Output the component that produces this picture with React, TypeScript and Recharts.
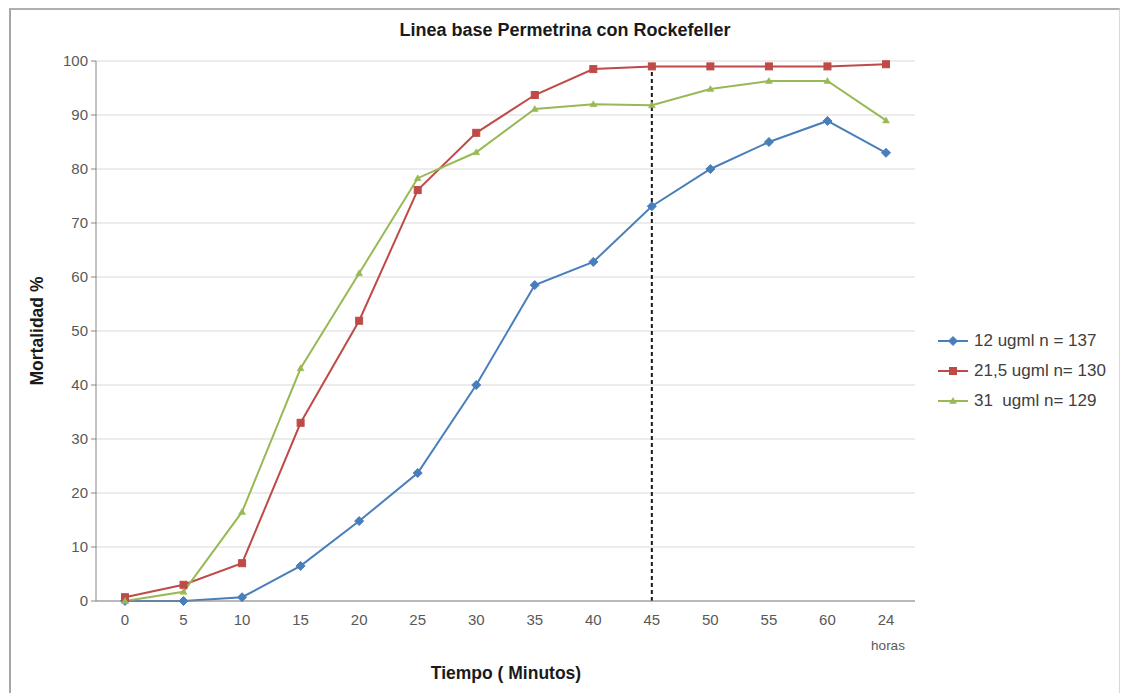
import React from "react";
import {
  LineChart,
  Line,
  XAxis,
  YAxis,
  CartesianGrid,
  Legend,
  ReferenceLine,
  Label,
} from "recharts";

// Exposure time (minutes; the last point is the 24 h reading)
const minutes = ["0", "5", "10", "15", "20", "25", "30", "35", "40", "45", "50", "55", "60", "24"];

// Mortality % per dose
const dose12 = [0, 0, 0.7, 6.5, 14.8, 23.7, 40, 58.5, 62.8, 73.1, 80, 85, 88.9, 83];
const dose215 = [0.7, 3, 7, 33, 51.9, 76.1, 86.7, 93.7, 98.5, 99, 99, 99, 99, 99.4];
const dose31 = [0, 1.7, 16.5, 43.1, 60.7, 78.3, 83.1, 91.1, 92, 91.8, 94.8, 96.3, 96.3, 89];

const yTicks = [0, 10, 20, 30, 40, 50, 60, 70, 80, 90, 100];
const cutoffMinute = "45";

const data = minutes.map((m, i) => ({
  minute: m,
  d12: dose12[i],
  d215: dose215[i],
  d31: dose31[i],
}));

const FONT = "'Liberation Sans', Arial, sans-serif";
const TICK_COLOR = "#595959";

type MarkerKind = "diamond" | "square" | "triangle";

const series: { key: string; name: string; color: string; marker: MarkerKind }[] = [
  { key: "d12", name: "12 ugml n = 137", color: "#4a7ebb", marker: "diamond" },
  { key: "d215", name: "21,5 ugml n= 130", color: "#be4b48", marker: "square" },
  { key: "d31", name: "31  ugml n= 129", color: "#98b954", marker: "triangle" },
];

const Marker = ({ cx, cy, kind, color }: { cx: number; cy: number; kind: MarkerKind; color: string }) => {
  if (cx == null || cy == null) return null;
  if (kind === "diamond") {
    return <path d={`M${cx},${cy - 4.5}L${cx + 4.5},${cy}L${cx},${cy + 4.5}L${cx - 4.5},${cy}Z`} fill={color} stroke={color} />;
  }
  if (kind === "square") {
    return <rect x={cx - 3.5} y={cy - 3.5} width={7} height={7} fill={color} stroke={color} />;
  }
  return <path d={`M${cx},${cy - 3.5}L${cx + 3.5},${cy + 2.5}L${cx - 3.5},${cy + 2.5}Z`} fill={color} stroke={color} strokeWidth={0.5} />;
};

const TimeTick = (props: any) => {
  const { x, y, payload } = props;
  return (
    <g>
      <text x={x} y={y} dy={16} textAnchor="middle" fill={TICK_COLOR} fontSize={15} fontFamily={FONT}>
        {payload.value}
      </text>
      {payload.value === "24" && (
        <text x={x + 2} y={y + 41} textAnchor="middle" fill={TICK_COLOR} fontSize={13.5} fontFamily={FONT}>
          horas
        </text>
      )}
    </g>
  );
};

const LegendBox = () => (
  <div style={{ fontFamily: FONT, fontSize: 17, color: "#404040" }}>
    {series.map((s) => (
      <div key={s.key} style={{ display: "flex", alignItems: "center", height: 30 }}>
        <svg width={38} height={14}>
          <line x1={2} y1={7} x2={32} y2={7} stroke={s.color} strokeWidth={2} />
          <Marker cx={17} cy={7} kind={s.marker} color={s.color} />
        </svg>
        <span style={{ whiteSpace: "pre" }}>{s.name}</span>
      </div>
    ))}
  </div>
);

export default function App() {
  return (
    <div style={{ position: "absolute", left: 0, top: 0, width: 1124, height: 693, background: "#fff", overflow: "hidden" }}>
      <div
        style={{
          position: "absolute",
          left: 9,
          top: 8,
          width: 1108,
          height: 700,
          borderLeft: "2px solid #a6a6a6",
          borderTop: "2px solid #b0b0b0",
          borderRight: "1px solid #d9d9d9",
        }}
      />
      <div
        style={{
          position: "absolute",
          left: 0,
          top: 19,
          width: 1130,
          textAlign: "center",
          fontFamily: FONT,
          fontWeight: "bold",
          fontSize: 18,
          lineHeight: "22px",
          color: "#1a1a1a",
        }}
      >
        Linea base Permetrina con Rockefeller
      </div>
      <div style={{ position: "absolute", left: 0, top: 0 }}>
        <LineChart width={1124} height={693} data={data} margin={{ top: 61, right: 209, bottom: 62, left: 36 }}>
          <CartesianGrid vertical={false} stroke="#d9d9d9" />
          <XAxis
            dataKey="minute"
            height={30}
            padding={{ left: 29, right: 29 }}
            axisLine={{ stroke: "#868686" }}
            tickLine={false}
            tick={<TimeTick />}
            interval={0}
          >
            <Label
              content={() => (
                <text x={506} y={679} textAnchor="middle" fontFamily={FONT} fontWeight="bold" fontSize={17.5} fill="#1a1a1a">
                  Tiempo ( Minutos)
                </text>
              )}
            />
          </XAxis>
          <YAxis
            width={60}
            domain={[0, 100]}
            ticks={yTicks}
            interval={0}
            axisLine={{ stroke: "#868686" }}
            tickLine={{ stroke: "#868686" }}
            tickSize={5}
            tickMargin={3}
            tick={{ fill: TICK_COLOR, fontSize: 15, fontFamily: FONT }}
          >
            <Label
              content={() => (
                <text
                  x={43}
                  y={331}
                  transform="rotate(-90 43 331)"
                  textAnchor="middle"
                  fontFamily={FONT}
                  fontWeight="bold"
                  fontSize={17.5}
                  fill="#1a1a1a"
                >
                  Mortalidad %
                </text>
              )}
            />
          </YAxis>
          <ReferenceLine
            segment={[
              { x: cutoffMinute, y: 0 },
              { x: cutoffMinute, y: dose215[minutes.indexOf(cutoffMinute)] },
            ]}
            stroke="#1a1a1a"
            strokeWidth={2}
            strokeDasharray="4 3"
          />
          {series.map((s) => (
            <Line
              key={s.key}
              dataKey={s.key}
              name={s.name}
              type="linear"
              stroke={s.color}
              strokeWidth={2}
              dot={(p: any) => <Marker key={`${s.key}-${p.index}`} cx={p.cx} cy={p.cy} kind={s.marker} color={s.color} />}
              activeDot={false}
              isAnimationActive={false}
            />
          ))}
          <Legend
            layout="horizontal"
            verticalAlign="middle"
            align="center"
            wrapperStyle={{ left: 936, top: 326, width: 185 }}
            content={() => <LegendBox />}
          />
        </LineChart>
      </div>
    </div>
  );
}
